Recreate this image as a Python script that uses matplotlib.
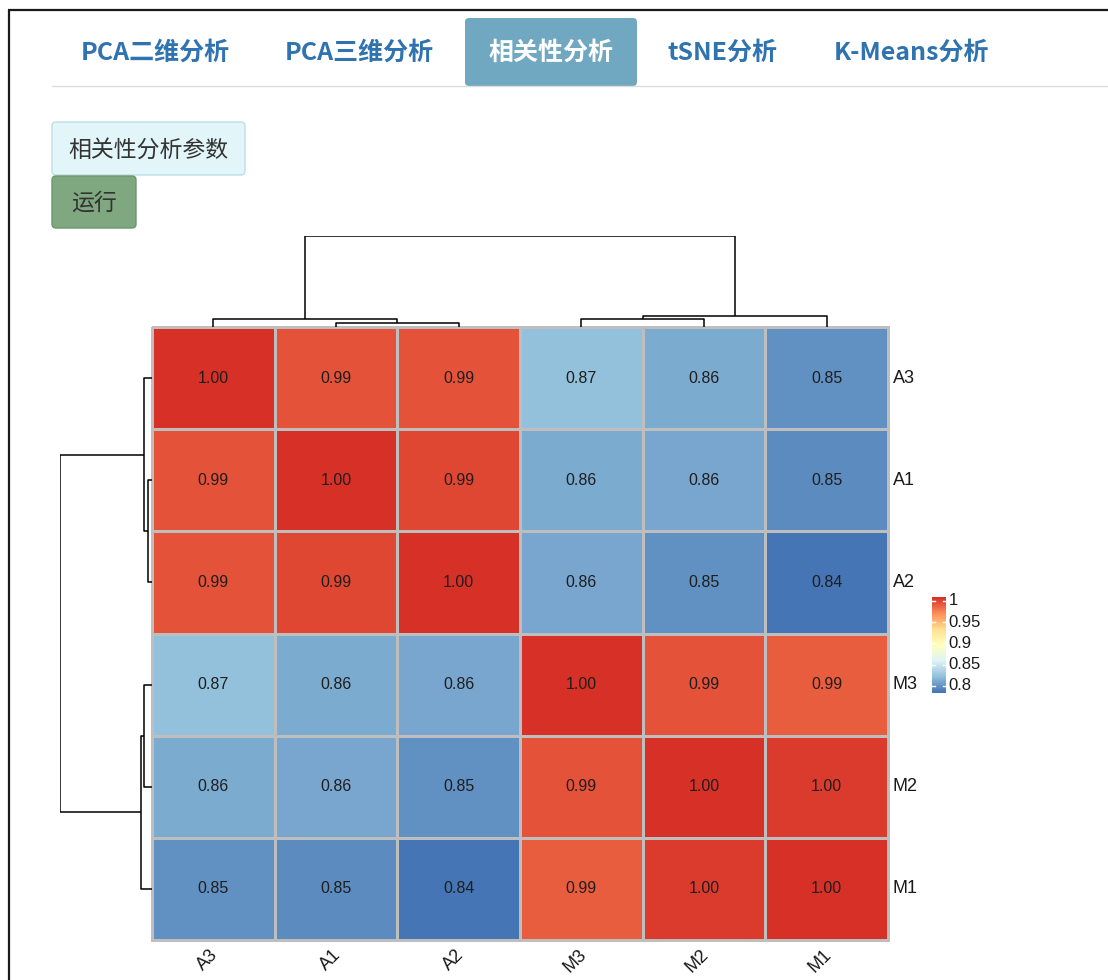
import numpy as np
import matplotlib
matplotlib.use("Agg")
import matplotlib.pyplot as plt
from matplotlib.colors import LinearSegmentedColormap
from matplotlib.patches import FancyBboxPatch

plt.rcParams['font.family'] = ['Noto Sans CJK SC', 'DejaVu Sans']

# page texts
tabs = ['PCA二维分析', 'PCA三维分析', '相关性分析', 'tSNE分析', 'K-Means分析']
active_tab = 2
param_button = '相关性分析参数'
run_button = '运行'

# correlation matrix, already in clustered order
samples = ['A3', 'A1', 'A2', 'M3', 'M2', 'M1']
row_A3 = [1.000, 0.990, 0.989, 0.866, 0.858, 0.849]
row_A1 = [0.990, 1.000, 0.992, 0.858, 0.857, 0.847]
row_A2 = [0.989, 0.992, 1.000, 0.856, 0.849, 0.838]
row_M3 = [0.866, 0.858, 0.856, 1.000, 0.989, 0.987]
row_M2 = [0.858, 0.857, 0.849, 0.989, 1.000, 0.996]
row_M1 = [0.849, 0.847, 0.838, 0.987, 0.996, 1.000]
corr = np.array([row_A3, row_A1, row_A2, row_M3, row_M2, row_M1])

# hierarchical clustering merges: (left node, right node, height); leaves 0-5, new nodes from 6
merges = [(1, 2, 0.0044), (0, 6, 0.0088), (3, 4, 0.0088), (8, 5, 0.0124), (7, 9, 0.100)]

# legend ticks
legend_ticks = [0.8, 0.85, 0.9, 0.95, 1.0]
legend_labels = ['0.8', '0.85', '0.9', '0.95', '1']

# pheatmap default palette (rev RdYlBu 7)
pal = ['#4575B4', '#91BFDB', '#E0F3F8', '#FFFFBF', '#FEE090', '#FC8D59', '#D73027']
cmap = LinearSegmentedColormap.from_list('rdylbu', pal, N=100)

W, H = 1108, 980
fig = plt.figure(figsize=(W / 100, H / 100), dpi=100)
fig.patch.set_facecolor('white')

# background page (pixel coords)
bg = fig.add_axes([0, 0, 1, 1])
bg.set_xlim(0, W)
bg.set_ylim(H, 0)
bg.axis('off')

bg.plot([8, W], [10, 10], color='#1a1a1a', lw=1.6, solid_capstyle='butt')
bg.plot([9, 9], [10, H], color='#1a1a1a', lw=1.6, solid_capstyle='butt')
bg.plot([52, W], [86.5, 86.5], color='#dddddd', lw=1)

tab_x = [155, 359, 551, 722, 912]
for i, (t, x) in enumerate(zip(tabs, tab_x)):
    if i == active_tab:
        bg.add_patch(FancyBboxPatch((465, 18), 172, 68, boxstyle='round,pad=0,rounding_size=4',
                                    fc='#70A7C1', ec='none'))
        col = 'white'
    else:
        col = '#2F73B0'
    bg.text(x, 53, t, ha='center', va='center', fontsize=18, fontweight='bold', color=col)

bg.add_patch(FancyBboxPatch((52, 122), 193, 53, boxstyle='round,pad=0,rounding_size=4',
                            fc='#E2F5F8', ec='#BCDFE6', lw=1))
bg.text(148.5, 150, param_button, ha='center', va='center', fontsize=16.5, color='#333333')
bg.add_patch(FancyBboxPatch((52, 176), 84, 52, boxstyle='round,pad=0,rounding_size=4',
                            fc='#80A880', ec='#6E966E', lw=1))
bg.text(94, 203, run_button, ha='center', va='center', fontsize=16.5, color='#333333')

# heatmap
hx0, hx1, hy0, hy1 = 152, 888, 327, 940
ax = fig.add_axes([hx0 / W, 1 - hy1 / H, (hx1 - hx0) / W, (hy1 - hy0) / H])
n = len(samples)
mesh = ax.pcolormesh(corr, cmap=cmap, vmin=corr.min(), vmax=corr.max(),
                     edgecolors='#BEBEBE', linewidth=1.8)
mesh.set_clip_on(False)
ax.set_xlim(0, n)
ax.set_ylim(n, 0)
ax.axis('off')
for i in range(n):
    for j in range(n):
        ax.text(j + 0.5, i + 0.5, '%.2f' % corr[i, j], ha='center', va='center',
                fontsize=11.5, color='#1e1e1e', family='Liberation Sans')
for i, s in enumerate(samples):
    ax.annotate(s, (n, i + 0.5), xytext=(3.5, 0), textcoords='offset points',
                ha='left', va='center', fontsize=13, family='Liberation Sans', color='#1a1a1a')
    ax.annotate(s, (i + 0.5, n), xytext=(6, -4.5), textcoords='offset points', rotation=45,
                ha='right', va='top', fontsize=13, family='Liberation Sans', color='#1a1a1a')


def dendro_lines(merges, n):
    pos = {i: i + 0.5 for i in range(n)}
    hgt = {i: 0.0 for i in range(n)}
    lines = []
    for k, (a, b, h) in enumerate(merges):
        lines.append(([pos[a], pos[a], pos[b], pos[b]], [hgt[a], h, h, hgt[b]]))
        pos[n + k] = (pos[a] + pos[b]) / 2
        hgt[n + k] = h
    return lines


root_h = merges[-1][2]
lines = dendro_lines(merges, n)

# column dendrogram
dy0 = 236
axc = fig.add_axes([hx0 / W, 1 - hy0 / H, (hx1 - hx0) / W, (hy0 - dy0) / H])
for xs, hs in lines:
    axc.plot(xs, hs, color='black', lw=1.1, solid_capstyle='butt')
axc.set_xlim(0, n)
axc.set_ylim(0, root_h)
axc.axis('off')

# row dendrogram
dx0 = 60
axr = fig.add_axes([dx0 / W, 1 - hy1 / H, (hx0 - dx0) / W, (hy1 - hy0) / H])
for xs, hs in lines:
    axr.plot(hs, xs, color='black', lw=1.1, solid_capstyle='butt')
axr.set_xlim(root_h, 0)
axr.set_ylim(n, 0)
axr.axis('off')

# legend
lx0, lx1, ly0, ly1 = 932, 946, 597, 693
axl = fig.add_axes([lx0 / W, 1 - ly1 / H, (lx1 - lx0) / W, (ly1 - ly0) / H])
lo, hi = 0.7835, 1.0094
grad = np.linspace(lo, hi, 100).reshape(-1, 1)
axl.imshow(grad, cmap=cmap, aspect='auto', origin='lower', extent=[0, 1, lo, hi])
axl.set_xlim(0, 1)
axl.set_ylim(lo, hi)
axl.axis('off')
for v, lab in zip(legend_ticks, legend_labels):
    axl.plot([0, 0.18], [v, v], color='white', lw=1)
    axl.plot([0.82, 1], [v, v], color='white', lw=1)
    axl.annotate(lab, (1, v), xytext=(2, 0), textcoords='offset points', ha='left', va='center',
                 fontsize=12, family='Liberation Sans', color='#1a1a1a')

fig.savefig('out.png', dpi=100)
